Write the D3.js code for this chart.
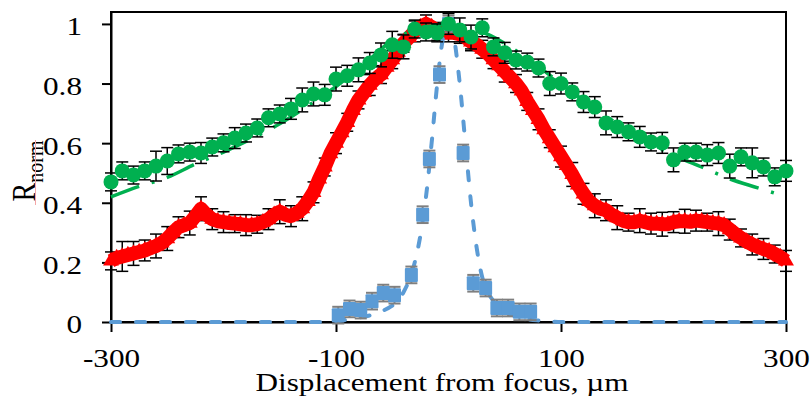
<!DOCTYPE html>
<html>
<head>
<meta charset="utf-8">
<script src="https://cdn.jsdelivr.net/npm/d3@7"></script>
<style>
  body { margin: 0; background: #fff; }
  text { font-family: "Liberation Serif", "Times New Roman", serif; fill: #000; }
</style>
</head>
<body>
<svg id="chart" width="811" height="403"></svg>
<script>
// ---- data ----
const xTicks = [-300, -100, 100, 300];
const yTicks = [0, 0.2, 0.4, 0.6, 0.8, 1];

// red: measured every 5 um from -300 to 300
const redStart = -300, redStep = 5;
const redY = [
  0.205, 0.215, 0.22, 0.225, 0.23, 0.235, 0.24, 0.248, 0.255, 0.265,
  0.28, 0.30, 0.318, 0.325, 0.332, 0.355, 0.38, 0.36, 0.345, 0.338,
  0.335, 0.332, 0.33, 0.328, 0.325, 0.325, 0.328, 0.335, 0.345, 0.36,
  0.37, 0.36, 0.355, 0.365, 0.38, 0.405, 0.435, 0.48, 0.52, 0.565,
  0.6, 0.635, 0.67, 0.71, 0.745, 0.77, 0.795, 0.815, 0.83, 0.855,
  0.88, 0.905, 0.935, 0.955, 0.975, 0.99, 1.0, 0.99, 0.975, 0.97,
  0.97, 0.97, 0.965, 0.955, 0.94, 0.93, 0.915, 0.9, 0.88, 0.86,
  0.84, 0.82, 0.80, 0.775, 0.74, 0.71, 0.68, 0.645, 0.615, 0.585,
  0.555, 0.525, 0.495, 0.46, 0.43, 0.405, 0.39, 0.38, 0.375, 0.36,
  0.35, 0.34, 0.335, 0.335, 0.34, 0.335, 0.33, 0.33, 0.328, 0.328,
  0.335, 0.338, 0.338, 0.336, 0.34, 0.338, 0.335, 0.332, 0.33, 0.325,
  0.31, 0.295, 0.282, 0.27, 0.26, 0.252, 0.245, 0.238, 0.228, 0.218,
  0.205
];
// red error bars every 10 um
const redErr = [
  0.03, 0.05, 0.04, 0.035, 0.04, 0.04, 0.035, 0.04, 0.04, 0.035,
  0.035, 0.03, 0.035, 0.03, 0.035, 0.04, 0.035, 0.04, 0.035, 0.03,
  0.035, 0.03, 0.03, 0.035, 0.03, 0.03, 0.03, 0.035, 0.03, 0.03,
  0.03, 0.03, 0.03, 0.03, 0.03, 0.035, 0.03, 0.03, 0.035, 0.03,
  0.035, 0.04, 0.035, 0.04, 0.035, 0.04, 0.03, 0.04, 0.035, 0.04,
  0.035, 0.04, 0.035, 0.03, 0.04, 0.035, 0.03, 0.035, 0.035, 0.03,
  0.035
];

// green: measured every 10 um
const greenStart = -300, greenStep = 10;
const greenY = [
  0.47, 0.507, 0.493, 0.507, 0.523, 0.54, 0.564, 0.57, 0.567, 0.587,
  0.601, 0.617, 0.634, 0.651, 0.685, 0.698, 0.715, 0.745, 0.765, 0.762,
  0.815, 0.826, 0.846, 0.869, 0.896, 0.93, 0.923, 0.983, 0.973, 0.97,
  1.0, 0.98, 0.956, 0.987, 0.923, 0.903, 0.879, 0.872, 0.852, 0.80,
  0.80, 0.772, 0.738, 0.721, 0.668, 0.654, 0.638, 0.621, 0.604, 0.601,
  0.544, 0.57, 0.57, 0.56, 0.567, 0.523, 0.554, 0.534, 0.52, 0.487,
  0.507
];
const greenErr = [
  0.03, 0.03, 0.03, 0.03, 0.05, 0.045, 0.03, 0.03, 0.035, 0.03,
  0.03, 0.035, 0.03, 0.03, 0.03, 0.03, 0.035, 0.04, 0.04, 0.035,
  0.04, 0.035, 0.04, 0.035, 0.04, 0.045, 0.04, 0.03, 0.03, 0.03,
  0.035, 0.04, 0.04, 0.03, 0.03, 0.035, 0.03, 0.03, 0.03, 0.04,
  0.035, 0.03, 0.035, 0.035, 0.04, 0.035, 0.03, 0.035, 0.03, 0.035,
  0.04, 0.03, 0.03, 0.035, 0.035, 0.04, 0.03, 0.05, 0.03, 0.03,
  0.035
];
const greenFitX = [-300, -275, -250, -225, -200, -175, -150, -125, -100, -75, -50, -25, 0,
  25, 50, 75, 100, 125, 150, 175, 200, 225, 250, 275, 300];
const greenFitY = [0.42, 0.455, 0.485, 0.53, 0.57, 0.615, 0.665, 0.725, 0.79, 0.865, 0.945, 0.985, 1.0,
  0.98, 0.935, 0.87, 0.8, 0.73, 0.665, 0.605, 0.56, 0.52, 0.48, 0.45, 0.42];

// blue squares
const blueX = [-98, -88, -78, -68, -58, -48, -33, -23, -17, -8, 0, 13, 22, 33, 43, 53, 63, 73];
const blueY = [0.023, 0.044, 0.04, 0.07, 0.097, 0.09, 0.158, 0.36, 0.547, 0.83, 1.0,
  0.567, 0.13, 0.114, 0.047, 0.047, 0.034, 0.034];
const blueErr = 0.028;
const blueFitX = [-300, -200, -120, -100, -90, -80, -70, -60, -50, -45, -40, -35, -30, -25, -20, -15, -10, -5, 0,
  5, 10, 15, 20, 25, 30, 35, 40, 45, 50, 60, 70, 80, 90, 100, 120, 200, 300];
const blueFitY = [0, 0, 0, 0.003, 0.008, 0.015, 0.022, 0.035, 0.055, 0.07, 0.1, 0.14, 0.2, 0.29, 0.42, 0.6, 0.8, 0.95, 1.0,
  0.95, 0.8, 0.6, 0.4, 0.25, 0.15, 0.1, 0.07, 0.05, 0.035, 0.02, 0.01, 0.005, 0.002, 0, 0, 0, 0];

// ---- layout ----
const svg = d3.select("#chart");
const margin = { left: 111, right: 25, top: 12, bottom: 81 };
const W = 811, H = 403;
const x = d3.scaleLinear().domain([-300, 300]).range([margin.left, W - margin.right]);
const y = d3.scaleLinear().domain([0, 1.04]).range([H - margin.bottom, margin.top]);

const red = "#ff0000", green = "#00b050", blue = "#5b9bd5";
const stretch = 1.2; // text in the original is stretched sideways
const fontSize = 26;

// frame
svg.append("rect")
  .attr("x", x(-300)).attr("y", y(1.04))
  .attr("width", x(300) - x(-300)).attr("height", y(0) - y(1.04))
  .attr("fill", "none").attr("stroke", "#000").attr("stroke-width", 2);

// axes
const xAxis = svg.append("g")
  .attr("transform", `translate(0,${y(0)})`)
  .call(d3.axisBottom(x).tickValues(xTicks).tickSize(10).tickSizeOuter(0).tickPadding(17)
    .tickFormat(d => String(d)));
const yAxis = svg.append("g")
  .attr("transform", `translate(${x(-300)},0)`)
  .call(d3.axisLeft(y).tickValues(yTicks).tickSize(9).tickSizeOuter(0).tickPadding(20)
    .tickFormat(d => String(d)));
[xAxis, yAxis].forEach(g => {
  g.attr("font-family", "'Liberation Serif', serif").attr("font-size", fontSize);
  g.selectAll("path, line").attr("stroke", "#000").attr("stroke-width", 2);
  g.selectAll("text").attr("fill", "#000");
});
xAxis.selectAll("text").attr("transform", `scale(${stretch},1)`);
yAxis.selectAll("text")
  .attr("dy", "0.42em")
  .attr("x", -29 / stretch)
  .attr("transform", `scale(${stretch},1)`);

// helper for error bars
const errBars = (g, pts, color, cap, width) => {
  const e = g.selectAll(null).data(pts).join("g");
  e.append("line")
    .attr("x1", d => x(d.x)).attr("x2", d => x(d.x))
    .attr("y1", d => y(d.y - d.e)).attr("y2", d => y(d.y + d.e));
  e.append("line")
    .attr("x1", d => x(d.x) - cap).attr("x2", d => x(d.x) + cap)
    .attr("y1", d => y(d.y + d.e)).attr("y2", d => y(d.y + d.e));
  e.append("line")
    .attr("x1", d => x(d.x) - cap).attr("x2", d => x(d.x) + cap)
    .attr("y1", d => y(d.y - d.e)).attr("y2", d => y(d.y - d.e));
  e.selectAll("line").attr("stroke", color).attr("stroke-width", width);
};

// ---- red series ----
const redPts = redY.map((v, i) => ({ x: redStart + i * redStep, y: v }));
const redErrPts = redErr.map((e, i) => ({ x: redStart + i * 10, y: redY[i * 2], e }));
errBars(svg.append("g"), redErrPts, "#000", 6, 1.5);
svg.append("path")
  .datum(redPts)
  .attr("d", d3.line().x(d => x(d.x)).y(d => y(d.y)))
  .attr("fill", "none").attr("stroke", red).attr("stroke-width", 14).attr("stroke-linejoin", "round");
svg.append("g").selectAll("path").data(redPts).join("path")
  .attr("transform", d => `translate(${x(d.x)},${y(d.y)})`)
  .attr("d", d3.symbol().type(d3.symbolTriangle).size(110))
  .attr("fill", red);

// ---- blue series ----
const blueFit = blueFitX.map((v, i) => ({ x: v, y: blueFitY[i] }));
svg.append("path")
  .datum(blueFit)
  .attr("d", d3.line().x(d => x(d.x)).y(d => y(d.y)).curve(d3.curveMonotoneX))
  .attr("fill", "none").attr("stroke", blue).attr("stroke-width", 4)
  .attr("stroke-dasharray", "9,16").attr("stroke-linecap", "round");
const bluePts = blueX.map((v, i) => ({ x: v, y: blueY[i], e: blueErr }));
errBars(svg.append("g"), bluePts, "#7f7f7f", 6, 2);
svg.append("g").selectAll("rect").data(bluePts).join("rect")
  .attr("x", d => x(d.x) - 6.5).attr("y", d => y(d.y) - 7)
  .attr("width", 13).attr("height", 14).attr("rx", 1)
  .attr("fill", blue);

// ---- green series ----
const greenFit = greenFitX.map((v, i) => ({ x: v, y: greenFitY[i] }));
svg.append("path")
  .datum(greenFit)
  .attr("d", d3.line().x(d => x(d.x)).y(d => y(d.y)).curve(d3.curveMonotoneX))
  .attr("fill", "none").attr("stroke", green).attr("stroke-width", 3.5)
  .attr("stroke-dasharray", "30,13,3,13");
const greenPts = greenY.map((v, i) => ({ x: greenStart + i * greenStep, y: v, e: greenErr[i] }));
errBars(svg.append("g"), greenPts, "#000", 6, 1.5);
svg.append("g").selectAll("circle").data(greenPts).join("circle")
  .attr("cx", d => x(d.x)).attr("cy", d => y(d.y)).attr("r", 7.5)
  .attr("fill", green);

// ---- axis titles ----
svg.append("text")
  .attr("transform", `translate(442,391) scale(${stretch},1)`)
  .attr("text-anchor", "middle")
  .style("font-size", "26px")
  .text("Displacement from focus, µm");

const yt = svg.append("text")
  .attr("transform", `translate(35,171) scale(${stretch},1) rotate(-90)`)
  .attr("text-anchor", "middle")
  .style("font-size", "28px");
yt.append("tspan").text("R");
yt.append("tspan").attr("dy", 7).style("font-size", "20px").text("norm");
svg.append("line")
  .attr("x1", 35.5).attr("x2", 35.5).attr("y1", 140).attr("y2", 205)
  .attr("stroke", "#f4a6a6").attr("stroke-width", 1);
</script>
</body>
</html>
